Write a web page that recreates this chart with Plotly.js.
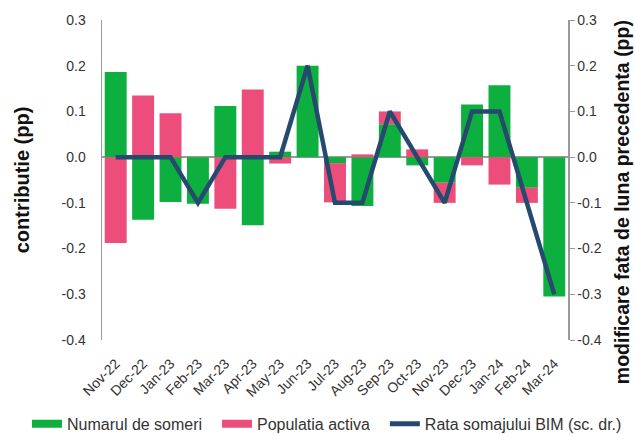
<!DOCTYPE html>
<html><head><meta charset="utf-8">
<script src="https://cdn.plot.ly/plotly-3.0.1.min.js"></script>
<style>html,body{margin:0;padding:0;background:#fff}#c{width:635px;height:434px}</style>
</head><body><div id="c"></div>
<script>
const categories = ["Nov-22","Dec-22","Jan-23","Feb-23","Mar-23","Apr-23","May-23","Jun-23","Jul-23","Aug-23","Sep-23","Oct-23","Nov-23","Dec-23","Jan-24","Feb-24","Mar-24"];
const numarulSomeri = [0.186,-0.137,-0.098,-0.102,0.112,-0.149,0.012,0.200,-0.013,-0.107,0.072,-0.018,-0.056,0.115,0.157,-0.067,-0.305];
const populatiaActiva = [-0.188,0.135,0.096,0.000,-0.113,0.148,-0.014,0.000,-0.086,0.006,0.028,0.017,-0.044,-0.018,-0.060,-0.033,0.000];
const rataSomaj = [0,0,0,-0.1,0,0,0,0.2,-0.1,-0.1,0.1,0,-0.1,0.1,0.1,-0.1,-0.3];
const yTicks = [-0.4,-0.3,-0.2,-0.1,0.0,0.1,0.2,0.3];

const GREEN = "#0DB03E", PINK = "#EC4D7B", BLUE = "#254A6E";
const font = "Liberation Sans, Arial, sans-serif";

const traces = [
  {type:"bar", x:categories, y:numarulSomeri, name:"Numarul de someri", marker:{color:GREEN}, showlegend:false, hoverinfo:"none"},
  {type:"bar", x:categories, y:populatiaActiva, name:"Populatia activa", marker:{color:PINK}, showlegend:false, hoverinfo:"none"},
  {type:"scatter", mode:"lines", x:categories, y:rataSomaj, yaxis:"y2", name:"Rata somajului BIM (sc. dr.)", line:{color:BLUE, width:4.5}, showlegend:false, hoverinfo:"none"},
  {type:"scatter", mode:"lines", x:[null], y:[null], name:"Numarul de someri", line:{color:GREEN, width:8}, legend:"legend", legendwidth:145},
  {type:"scatter", mode:"lines", x:[null], y:[null], name:"Populatia activa", line:{color:PINK, width:8}, legend:"legend", legendwidth:118},
  {type:"scatter", mode:"lines", x:[null], y:[null], name:"Rata somajului BIM (sc. dr.)", line:{color:BLUE, width:5}, legend:"legend2"}
];

const tickText = yTicks.map(v => v.toFixed(1));
const legendBase = {orientation:"h", yanchor:"middle", y:-0.262, xanchor:"left", font:{size:16, color:"#333", family:font}, itemwidth:30, tracegroupgap:0, bgcolor:"rgba(0,0,0,0)", borderwidth:0};
const layout = {
  width:635, height:434,
  margin:{l:102, r:67, t:20, b:94, autoexpand:false},
  paper_bgcolor:"#fff", plot_bgcolor:"#fff",
  barmode:"relative", bargap:0.2,
  font:{family:font, size:14, color:"#333"},
  xaxis:{type:"category", tickangle:-45, tickfont:{size:14, color:"#333"}, showline:false, ticks:"outside", ticklen:9, tickcolor:"rgba(0,0,0,0)", showgrid:false, zeroline:false, fixedrange:true},
  yaxis:{range:[-0.4,0.3], tickvals:yTicks, ticktext:tickText, showgrid:false, zeroline:true, zerolinecolor:"#9a9a9a", zerolinewidth:1.5,
         showline:true, linecolor:"#9a9a9a", linewidth:1.5, ticks:"outside", ticklen:12, tickcolor:"rgba(0,0,0,0)",
         tickfont:{size:14, color:"#333"},
         title:{text:"contributie (pp)", font:{size:20, color:"#111", family:font, weight:"bold"}, standoff:26}},
  yaxis2:{range:[-0.4,0.3], overlaying:"y", side:"right", tickvals:yTicks, ticktext:tickText, showgrid:false, zeroline:false,
          showline:true, linecolor:"#9a9a9a", linewidth:1.5, ticks:"outside", ticklen:5, tickcolor:"#9a9a9a",
          tickfont:{size:14, color:"#333"}},
  annotations:[{text:"<b>modificare fata de luna precedenta (pp)</b>", xref:"paper", yref:"paper", x:1.116, y:0.431, xanchor:"center", yanchor:"middle",
                textangle:-90, showarrow:false, font:{size:19.5, color:"#111", family:font}}],
  legend:Object.assign({}, legendBase, {x:-0.161}),
  legend2:Object.assign({}, legendBase, {x:0.607}),
  showlegend:true
};
Plotly.newPlot("c", traces, layout, {displayModeBar:false, staticPlot:true});
</script></body></html>
